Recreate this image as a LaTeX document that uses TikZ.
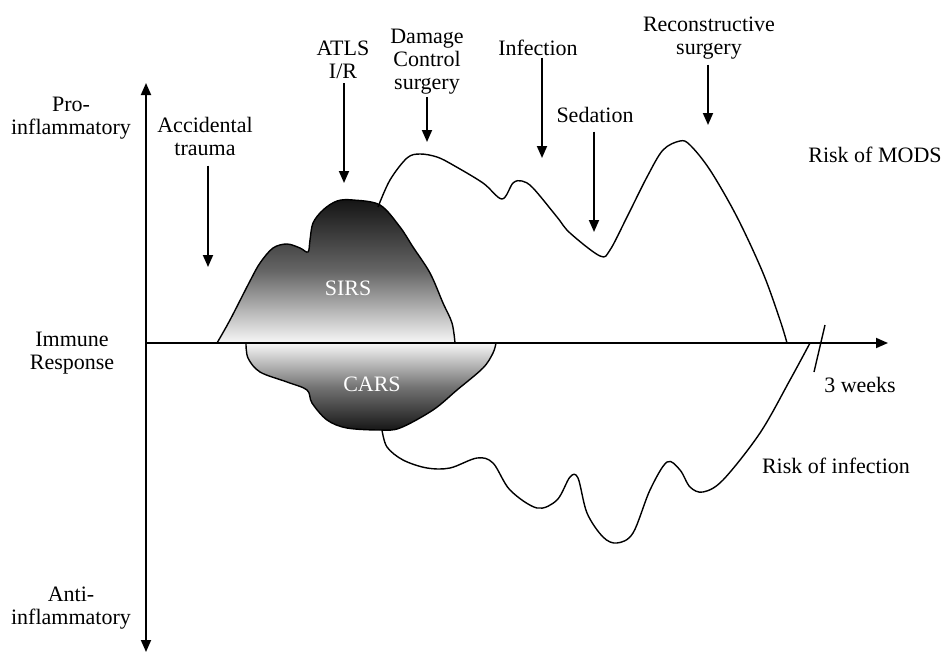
\documentclass[tikz,border=0pt]{standalone}
\usepackage{fontspec}
\setmainfont{Liberation Serif}
\usetikzlibrary{arrows.meta}

\tikzset{
  txt/.style={align=center,inner sep=1pt,font=\fontsize{11}{11.5}\selectfont},
  axisline/.style={line width=0.9pt,-{Triangle[width=5pt,length=6pt]}},
  evarrow/.style={line width=0.9pt,-{Triangle[width=5pt,length=6pt]}},
  respcurve/.style={line width=0.7pt,line join=round},
  blob/.style={line width=0.7pt,line join=round},
}

\begin{document}
\begin{tikzpicture}[x=0.5pt,y=-0.5pt]
  \useasboundingbox (0,0) rectangle (948,653);

  \coordinate (O) at (146,343);
  \coordinate (Ptop) at (146,83);
  \coordinate (Pbot) at (146,652);
  \coordinate (Pend) at (888,343);

  \draw[blob,top color=black!92,bottom color=black!3,middle color=black!60]
    plot[smooth,tension=0.55] coordinates {
      (217,343) (230,320) (250,281) (260,263) (273,248) (287,244) (300,248)
      (308,252) (310,240) (313,223) (323,210) (337,201) (353,200) (380,205)
      (400,227) (413,247) (430,273) (443,303) (452,323) (455,343)} -- cycle;
  \draw[blob,top color=black!3,bottom color=black!92,middle color=black!55]
    plot[smooth,tension=0.55] coordinates {
      (246,343) (248,358) (260,372) (287,382) (307,390) (312,403) (327,420)
      (347,428) (380,430) (400,428) (433,410) (457,390) (483,368) (493,353)
      (496,343)} -- cycle;
  \node[txt,text=white,anchor=base] (sirs) at (348,295) {SIRS};
  \node[txt,text=white,anchor=base] (cars) at (372,391) {CARS};

  \draw[respcurve] plot[smooth,tension=0.55] coordinates {
    (378,207) (390,180) (407,158) (420,154) (437,157) (453,165) (483,183)
    (502,199) (513,183) (522,181) (533,188) (557,217) (570,233) (600,256)
    (610,250) (627,217) (647,177) (663,150) (680,141) (690,145) (710,170)
    (737,217) (763,273) (780,320) (787,343)};
  \draw[respcurve] plot[smooth,tension=0.55] coordinates {
    (382,430) (387,447) (403,460) (427,468) (450,468) (477,458) (493,463)
    (510,490) (537,508) (557,500) (570,477) (578,478) (587,513) (603,537)
    (617,543) (633,533) (650,490) (667,462) (680,470) (690,487) (703,492)
    (723,480) (760,433) (790,380) (810,343)};

  \draw[axisline] (O) -- (Ptop);
  \draw[axisline] (O) -- (Pbot);
  \draw[axisline] (O) -- (Pend);
  \coordinate (B1) at (814,372);
  \coordinate (B2) at (825,325);
  \draw[respcurve] (B1) -- (B2);

  \node[txt] (pro) at (71,118) {Pro-\\inflammatory};
  \node[txt] (immune) at (72,353) {Immune\\Response};
  \node[txt] (anti) at (71,608) {Anti-\\inflammatory};
  \node[txt,anchor=base] (mods) at (875,162) {Risk of MODS};
  \node[txt,anchor=base] (weeks) at (860,392) {3 weeks};
  \node[txt,anchor=base] (riskinf) at (836,473) {Risk of infection};

  \node[txt] (trauma) at (205,136) {Accidental\\trauma};
  \node[txt] (atls) at (343,60) {ATLS\\I/R};
  \node[txt] (dcs) at (427,62) {Damage\\Control\\surgery};
  \node[txt,anchor=base] (infection) at (538,55) {Infection};
  \node[txt,anchor=base] (sedation) at (595,122) {Sedation};
  \node[txt] (recon) at (709,38) {Reconstructive\\surgery};

  \coordinate (trauma tip) at (208,267);
  \coordinate (atls tip) at (344,183);
  \coordinate (dcs tip) at (427,142);
  \coordinate (infection tip) at (542,158);
  \coordinate (sedation tip) at (594,232);
  \coordinate (recon tip) at (708,125);

  \draw[evarrow,shorten <=4pt] (trauma.south -| trauma tip) -- (trauma tip);
  \draw[evarrow,shorten <=1pt] (atls.south -| atls tip) -- (atls tip);
  \draw[evarrow] (dcs.south -| dcs tip) -- (dcs tip);
  \draw[evarrow] (infection.south -| infection tip) -- (infection tip);
  \draw[evarrow,shorten <=3.5pt] (sedation.south -| sedation tip) -- (sedation tip);
  \draw[evarrow,shorten <=1.5pt] (recon.south -| recon tip) -- (recon tip);
\end{tikzpicture}
\end{document}
